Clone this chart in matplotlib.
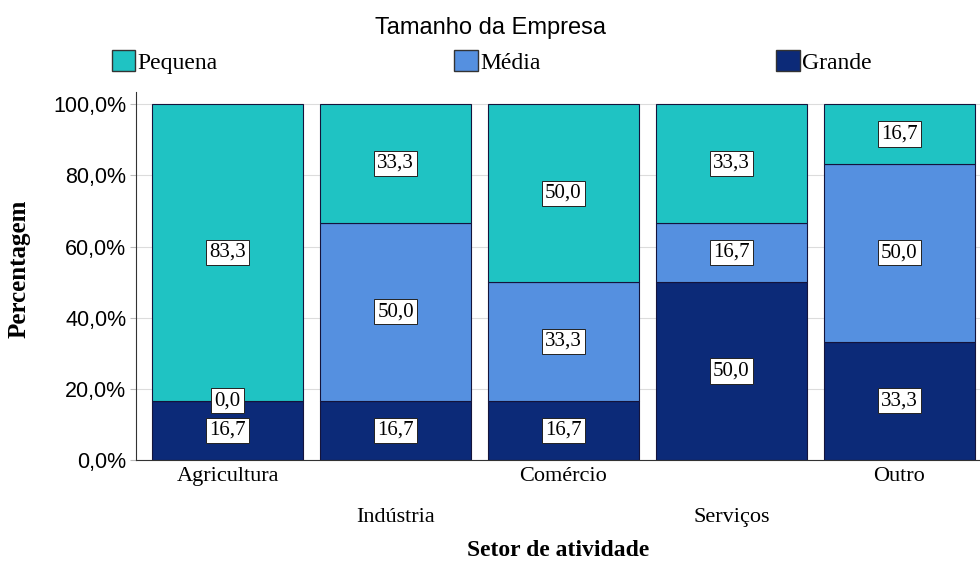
import matplotlib
matplotlib.use('Agg')
import matplotlib.pyplot as plt
from matplotlib.patches import Patch
import numpy as np

setores = ['Agricultura', 'Indústria', 'Comércio', 'Serviços', 'Outro']
grande = [16.7, 16.7, 16.7, 50.0, 33.3]
media = [0.0, 50.0, 33.3, 16.7, 50.0]
pequena = [83.3, 33.3, 50.0, 33.3, 16.7]
ticks_y = [0, 20, 40, 60, 80, 100]
tick_labels_y = ['0,0%', '20,0%', '40,0%', '60,0%', '80,0%', '100,0%']

cor_pequena = '#1fc3c3'
cor_media = '#5590e0'
cor_grande = '#0c2a78'
serif = ['Liberation Serif', 'DejaVu Serif']
sans = ['Liberation Sans', 'DejaVu Sans']

fig = plt.figure(figsize=(9.8, 5.69), dpi=100)
ax = fig.add_axes([0.1388, 0.1916, 0.8612, 0.647])

x = np.arange(len(setores))
g = np.array(grande)
m = np.array(media)
p = np.array(pequena)
ax.bar(x, g, width=0.9, color=cor_grande, edgecolor='#14143c', linewidth=0.8, zorder=2)
ax.bar(x, m, width=0.9, bottom=g, color=cor_media, edgecolor='#14143c', linewidth=0.8, zorder=2)
ax.bar(x, p, width=0.9, bottom=g + m, color=cor_pequena, edgecolor='#14143c', linewidth=0.8, zorder=2)

def fmt(v):
    return ('%.1f' % v).replace('.', ',')

caixa = dict(boxstyle='square,pad=0.15', facecolor='white', edgecolor='#222222', linewidth=0.7)
for i in range(len(setores)):
    for base, val in [(0, g[i]), (g[i], m[i]), (g[i] + m[i], p[i])]:
        ax.text(x[i], base + val / 2, fmt(val), ha='center', va='center',
                fontsize=15, family=serif, bbox=caixa, zorder=5)

ax.set_xlim(-0.545, 4.48)
ax.set_ylim(0, 103.5)
ax.set_yticks(ticks_y)
ax.set_yticklabels(tick_labels_y, family=sans, fontsize=15.5)
ax.yaxis.grid(True, color='#dcdcdc', linewidth=0.8, zorder=0)
ax.tick_params(axis='y', length=4, color='#bbbbbb', pad=3)

ax.set_xticks(x)
ax.set_xticklabels(setores, family=serif, fontsize=16)
ax.tick_params(axis='x', length=0, pad=5)
for k, t in enumerate(ax.xaxis.get_major_ticks()):
    if k % 2 == 1:
        t.set_pad(34.5)

for s in ['top', 'right']:
    ax.spines[s].set_visible(False)
ax.spines['left'].set_color('#333333')
ax.spines['bottom'].set_color('#333333')

ax.set_ylabel('Percentagem', family=serif, fontsize=18, fontweight='bold')
ax.yaxis.set_label_coords(-0.125, 0.52)
ax.set_xlabel('Setor de atividade', family=serif, fontsize=17, fontweight='bold', va='top')
ax.xaxis.set_label_coords(0.5, -0.218)

fig.text(0.5, 0.951, 'Tamanho da Empresa', ha='center', va='center', family=sans, fontsize=17)
handles = [Patch(facecolor=cor_pequena, edgecolor='#333333', label='Pequena'),
           Patch(facecolor=cor_media, edgecolor='#333333', label='Média'),
           Patch(facecolor=cor_grande, edgecolor='#333333', label='Grande')]
fig.legend(handles=handles, ncol=3, loc='center', bbox_to_anchor=(0.502, 0.891),
           frameon=False, prop={'family': serif, 'size': 17},
           handlelength=1.0, handleheight=1.0, handletextpad=0.1, columnspacing=10)

fig.savefig('out.png', dpi=100)
